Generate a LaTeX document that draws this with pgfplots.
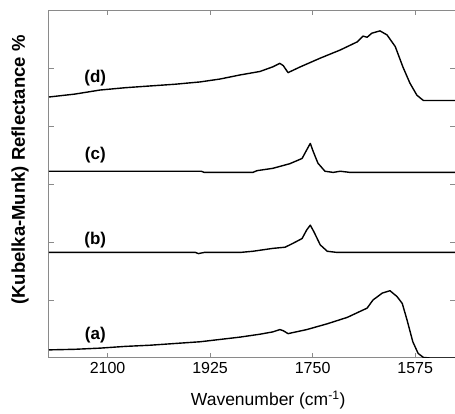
\documentclass[border=0pt]{standalone}
\usepackage{fontspec}
\setmainfont{Liberation Sans}
\usepackage{pgfplots}
\pgfplotsset{compat=1.18}
\usetikzlibrary{calc}
\definecolor{frame}{HTML}{8A8A8A}
\tikzset{lab/.style={font=\fontsize{17}{18}\selectfont\bfseries}}

\begin{document}
\begin{tikzpicture}
\begin{axis}[
  scale only axis, width=406pt, height=348pt,
  x dir=reverse, xmin=1507, xmax=2200, ymin=0, ymax=6,
  xtick={2100,1925,1750,1575}, ytick={1,2,3,4,5}, yticklabels={},
  tick align=inside, major tick length=5pt,
  xtick pos=both, ytick pos=both,
  axis line style={frame, line width=1pt}, tick style={frame, line width=0.8pt},
  /pgf/number format/assume math mode=true,
  /pgf/number format/.cd, 1000 sep={}, /pgfplots/.cd,
  xticklabel style={font=\fontsize{16}{17}\selectfont, yshift=-1pt},
  xlabel={Wavenumber (cm\textsuperscript{-1})},
  xlabel style={font=\fontsize{17.5}{18}\selectfont, at={(axis description cs:0.54,-0.12)}, anchor=center},
  ylabel={(Kubelka-Munk) Reflectance \%},
  ylabel style={font=\fontsize{18.5}{19}\selectfont\bfseries, at={(axis description cs:-0.071,0.54)}, anchor=center},
  spec/.style={black, no marks, line width=1.4pt, line join=round},
]
% (a)
\addplot[spec] coordinates {(2200,0.14) (2156,0.15) (2113,0.17) (2070,0.20) (2028,0.22) (1985,0.25) (1942,0.28) (1908,0.32) (1874,0.36) (1840,0.41) (1818,0.45) (1806,0.49) (1800,0.47) (1792,0.42) (1760,0.49) (1725,0.59) (1691,0.70) (1657,0.86) (1647,1.00) (1631,1.12) (1618,1.16) (1606,1.06) (1597,0.94) (1589,0.66) (1579,0.28) (1570,0.08) (1561,0.01) (1550,0) (1507,0)};
% (b)
\addplot[spec] coordinates {(2200,1.82) (1950,1.82) (1945,1.80) (1935,1.82) (1874,1.82) (1852,1.84) (1818,1.89) (1797,1.91) (1783,1.98) (1768,2.06) (1760,2.21) (1754,2.29) (1748,2.18) (1737,1.95) (1725,1.84) (1708,1.82) (1507,1.82)};
% (c)
\addplot[spec] coordinates {(2200,3.22) (1940,3.22) (1935,3.20) (1852,3.20) (1845,3.23) (1818,3.27) (1789,3.35) (1768,3.44) (1760,3.59) (1754,3.70) (1749,3.56) (1741,3.36) (1729,3.22) (1715,3.20) (1703,3.22) (1686,3.20) (1507,3.20)};
% (d)
\addplot[spec] coordinates {(2200,4.50) (2156,4.55) (2113,4.62) (2070,4.66) (2028,4.69) (1985,4.72) (1942,4.76) (1908,4.81) (1874,4.88) (1840,4.94) (1818,5.02) (1806,5.08) (1800,5.04) (1792,4.92) (1771,5.02) (1737,5.17) (1703,5.31) (1674,5.45) (1664,5.55) (1657,5.53) (1649,5.60) (1635,5.64) (1623,5.57) (1609,5.37) (1596,5.02) (1584,4.74) (1572,4.53) (1561,4.44) (1507,4.44)};
\node[lab] at (axis cs:2121,0.40) {(a)};
\node[lab] at (axis cs:2121,2.03) {(b)};
\node[lab] at (axis cs:2121,3.50) {(c)};
\node[lab] at (axis cs:2121,4.83) {(d)};
\end{axis}
\pgfresetboundingbox
\path ($(current axis.south west)+(-49pt,-56pt)$) rectangle ($(current axis.north east)+(0pt,10pt)$);
\end{tikzpicture}
\end{document}
